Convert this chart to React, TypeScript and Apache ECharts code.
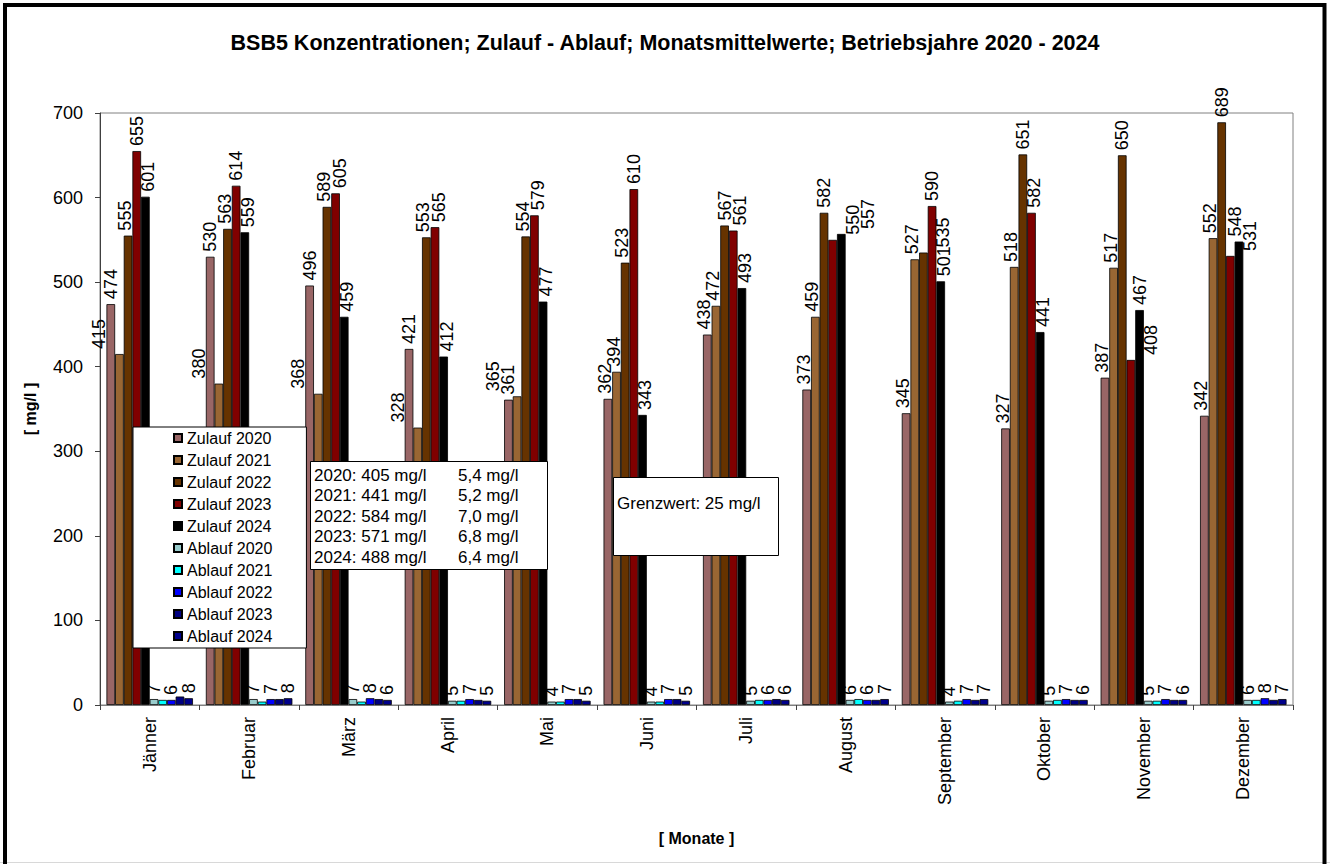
import React, { useEffect, useRef } from "react";
import * as echarts from "echarts";

const months = ["Jänner", "Februar", "März", "April", "Mai", "Juni", "Juli", "August", "September", "Oktober", "November", "Dezember"];

const zulauf2020 = [474, 530, 496, 421, 361, 362, 438, 373, 345, 327, 387, 342];
const zulauf2021 = [415, 380, 368, 328, 365, 394, 472, 459, 527, 518, 517, 552];
const zulauf2022 = [555, 563, 589, 553, 554, 523, 567, 582, 535, 651, 650, 689];
const zulauf2023 = [655, 614, 605, 565, 579, 610, 561, 550, 590, 582, 408, 531];
const zulauf2024 = [601, 559, 459, 412, 477, 343, 493, 557, 501, 441, 467, 548];

const ablauf2020 = [7, 7, 7, 5, 4, 4, 5, 6, 4, 5, 5, 6];
const ablauf2021 = [6, 4, 4, 5, 4, 4, 6, 7, 5, 6, 5, 6];
const ablauf2022 = [6, 7, 8, 7, 7, 7, 6, 6, 7, 7, 7, 8];
const ablauf2023 = [10, 7, 7, 6, 7, 7, 7, 6, 6, 6, 6, 6];
const ablauf2024 = [8, 8, 6, 5, 5, 5, 6, 7, 7, 6, 6, 7];

const seriesNames = [
  "Zulauf 2020", "Zulauf 2021", "Zulauf 2022", "Zulauf 2023", "Zulauf 2024",
  "Ablauf 2020", "Ablauf 2021", "Ablauf 2022", "Ablauf 2023", "Ablauf 2024",
];
const seriesData = [zulauf2020, zulauf2021, zulauf2022, zulauf2023, zulauf2024, ablauf2020, ablauf2021, ablauf2022, ablauf2023, ablauf2024];
const seriesColors = ["#996666", "#996633", "#663300", "#800000", "#000000", "#99CCCC", "#00FFFF", "#0000FF", "#000080", "#00008B"];
const showLabel = [true, true, true, true, true, true, false, true, false, true];
const ZULAUF_COUNT = 5;

const meanYears = ["2020", "2021", "2022", "2023", "2024"];
const meanZulauf = ["405", "441", "584", "571", "488"];
const meanAblauf = ["5,4", "5,2", "7,0", "6,8", "6,4"];

const titleText = "BSB5 Konzentrationen; Zulauf - Ablauf; Monatsmittelwerte; Betriebsjahre 2020 - 2024";
const grenzwertText = "Grenzwert: 25 mg/l";

const FONT = "Arial, 'Liberation Sans', sans-serif";

type Box = { x0: number; x1: number; y0: number; y1: number };
let placedLabels: Record<number, Box[]> = {};

function overlaps(a: Box, b: Box, xtol: number, ytol: number) {
  return Math.min(a.x1, b.x1) - Math.max(a.x0, b.x0) > xtol && Math.min(a.y1, b.y1) - Math.max(a.y0, b.y0) > ytol;
}

// Excel-like collision avoidance for the rotated Zulauf labels
function zulaufLabelLayout(params: any) {
  const s = params.seriesIndex;
  const j = params.dataIndex;
  const rect = params.rect;
  const lr = params.labelRect;
  if (s === 0 && j === 0) placedLabels = {};
  if (!placedLabels[j]) placedLabels[j] = [];
  const base = rect.y + rect.height;
  const scale = rect.height / seriesData[s][j];
  const bars: Box[] = [];
  for (let k = 0; k < ZULAUF_COUNT; k++) {
    if (k === s) continue;
    const v = seriesData[k][j];
    const x0 = rect.x + (k - s) * rect.width;
    bars.push({ x0, x1: x0 + rect.width, y0: base - v * scale, y1: base });
  }
  const cx = lr.x + lr.width / 2;
  const half = 7.5;
  const make = (dx: number): Box => ({ x0: cx + dx - half, x1: cx + dx + half, y0: lr.y, y1: lr.y + lr.height });
  const ok = (b: Box) =>
    !bars.some((o) => overlaps(b, o, 1, 0)) && !placedLabels[j].some((o) => overlaps(b, o, 0, 3));
  let chosen = 0;
  for (let d = 0; d <= 45; d++) {
    if (ok(make(d))) { chosen = d; break; }
    if (ok(make(-d))) { chosen = -d; break; }
  }
  placedLabels[j].push(make(chosen));
  return { x: cx + chosen };
}

export default function App() {
  const ref = useRef<HTMLDivElement>(null);
  useEffect(() => {
    if (!ref.current) return;
    const chart = echarts.init(ref.current, null, { renderer: "svg" });

    const series = seriesNames.map((name, i) => ({
      name,
      type: "bar",
      data: seriesData[i],
      barGap: "0%",
      barCategoryGap: "13%",
      itemStyle: { color: seriesColors[i], borderColor: "#000", borderWidth: 0.8 },
      labelLayout: i < ZULAUF_COUNT ? zulaufLabelLayout : undefined,
      label: {
        show: showLabel[i],
        position: "top",
        distance: 5,
        rotate: 90,
        align: "left",
        verticalAlign: "middle",
        fontSize: 18,
        fontFamily: FONT,
        color: "#000",
      },
    }));

    const boxTexts: any[] = [];
    meanYears.forEach((y, i) => {
      const yy = 475 + i * 20.5;
      boxTexts.push({
        type: "text", x: 314, y: yy, z: 101,
        style: { text: `${y}: ${meanZulauf[i]} mg/l`, fontSize: 17, fontFamily: FONT, fill: "#000", verticalAlign: "middle" },
      });
      boxTexts.push({
        type: "text", x: 458, y: yy, z: 101,
        style: { text: `${meanAblauf[i]} mg/l`, fontSize: 17, fontFamily: FONT, fill: "#000", verticalAlign: "middle" },
      });
    });

    chart.setOption({
      animation: false,
      backgroundColor: "#fff",
      title: {
        text: titleText,
        left: "center",
        top: 27,
        textStyle: { fontSize: 21.5, fontWeight: "bold", fontFamily: FONT, color: "#000" },
      },
      legend: {
        data: seriesNames,
        orient: "vertical",
        left: 133,
        top: 427,
        itemWidth: 8,
        itemHeight: 8,
        itemGap: 6,
        icon: "rect",
        padding: [3, 34, 4, 40],
        backgroundColor: "#fff",
        borderColor: "#000",
        borderWidth: 1,
        borderRadius: 0,
        textStyle: { fontSize: 16, fontFamily: FONT, color: "#000" },
        z: 50,
      },
      grid: {
        left: 100,
        right: 37,
        top: 113,
        bottom: 159,
        show: true,
        borderColor: "#808080",
        borderWidth: 1,
      },
      xAxis: {
        type: "category",
        data: months,
        name: "[ Monate ]",
        nameLocation: "middle",
        nameGap: 125,
        nameTextStyle: { fontSize: 16, fontWeight: "bold", fontFamily: FONT, color: "#000" },
        axisLine: { lineStyle: { color: "#808080", width: 1 } },
        axisTick: { show: true, length: 5, lineStyle: { color: "#404040" } },
        axisLabel: { rotate: 90, margin: 12, fontSize: 18, fontFamily: FONT, color: "#000" },
      },
      yAxis: {
        type: "value",
        min: 0,
        max: 700,
        interval: 100,
        name: "[ mg/l ]",
        nameLocation: "middle",
        nameGap: 62,
        nameRotate: 90,
        nameTextStyle: { fontSize: 16, fontWeight: "bold", fontFamily: FONT, color: "#000" },
        axisLine: { show: true, lineStyle: { color: "#404040", width: 1 } },
        axisTick: { show: true, length: 5, lineStyle: { color: "#404040" } },
        axisLabel: { margin: 17, fontSize: 18, fontFamily: FONT, color: "#000" },
        splitLine: { show: false },
      },
      series,
      graphic: [
        {
          type: "rect", z: 100,
          shape: { x: 310.5, y: 461.5, width: 237, height: 108 },
          style: { fill: "#fff", stroke: "#000", lineWidth: 1 },
        },
        ...boxTexts,
        {
          type: "rect", z: 100,
          shape: { x: 613.5, y: 477.5, width: 165, height: 78 },
          style: { fill: "#fff", stroke: "#000", lineWidth: 1 },
        },
        {
          type: "text", x: 617, y: 503, z: 101,
          style: { text: grenzwertText, fontSize: 17, fontFamily: FONT, fill: "#000", verticalAlign: "middle" },
        },
        {
          type: "line", z: 100,
          shape: { x1: 0, y1: 862.5, x2: 1330, y2: 862.5 },
          style: { stroke: "#d8d8d8", lineWidth: 1 },
        },
        {
          type: "rect", z: 100,
          shape: { x: 5, y: 5, width: 1319.5, height: 900 },
          style: { fill: "none", stroke: "#000", lineWidth: 4 },
        },
      ],
    });
    return () => chart.dispose();
  }, []);
  return (
    <div
      ref={ref}
      style={{ position: "fixed", left: 0, top: 0, width: 1330, height: 864, background: "#fff" }}
    />
  );
}
